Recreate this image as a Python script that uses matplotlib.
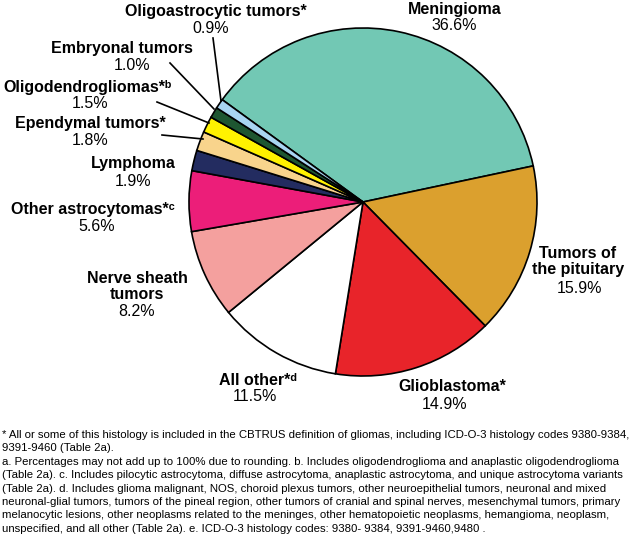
import matplotlib
matplotlib.use('Agg')
import matplotlib.pyplot as plt

plt.rcParams['font.family'] = ['Liberation Sans', 'DejaVu Sans']

# data (clockwise from Meningioma)
names = ['Meningioma', 'Tumors of\nthe pituitary', 'Glioblastoma*', 'All other*ᵈ',
         'Nerve sheath\ntumors', 'Other astrocytomas*ᶜ', 'Lymphoma', 'Ependymal tumors*',
         'Oligodendrogliomas*ᵇ', 'Embryonal tumors', 'Oligoastrocytic tumors*']
pct = [36.6, 15.9, 14.9, 11.5, 8.2, 5.6, 1.9, 1.8, 1.5, 1.0, 0.9]
colors = ['#72C8B4', '#DBA02E', '#E8242A', '#FFFFFF', '#F4A09E', '#EC1E79',
          '#232C60', '#F8D48C', '#FFF200', '#1E5631', '#A9D5F2']

W, H = 640, 546
fig = plt.figure(figsize=(W / 100, H / 100), dpi=100)
ax = fig.add_axes([0, 0, 1, 1])

ax.pie(pct, colors=colors, startangle=144, counterclock=False,
       center=(363, H - 202), radius=174,
       wedgeprops=dict(edgecolor='black', linewidth=1.2))
ax.set_xlim(0, W)
ax.set_ylim(0, H)
ax.set_aspect('equal')
ax.axis('off')

# label positions in pixels: x, baseline of first name line, x, baseline of percent
lab = [
    (455, 14, 454, 30),
    (578, 258, 580, 293),
    (452, 391, 445, 409),
    (258, 385, 255, 401),
    (137, 283, 137, 316),
    (93, 214, 97, 231),
    (133, 168, 133, 186),
    (90, 128, 90, 145),
    (88, 92, 90, 108),
    (122, 53, 132, 70),
    (216, 16, 211, 33),
]
fs = 11.5
for n, p, (x, y, xp, yp) in zip(names, pct, lab):
    for k, part in enumerate(n.split('\n')):
        ax.text(x, H - (y + 16 * k), part, ha='center', va='baseline', fontsize=fs,
                fontweight='bold')
    ax.text(xp, H - yp, f'{p}%', ha='center', va='baseline', fontsize=fs)

# leader lines
leaders = [
    ((213, 38), (221, 101)),
    ((170, 63), (214, 109)),
    ((157, 102), (209, 123)),
    ((162, 135), (203, 139)),
]
for (x0, y0), (x1, y1) in leaders:
    ax.plot([x0, x1], [H - y0, H - y1], color='black', lw=1.2)

notes = [
    '* All or some of this histology is included in the CBTRUS definition of gliomas, including ICD-O-3 histology codes 9380-9384,',
    '9391-9460 (Table 2a).',
    'a. Percentages may not add up to 100% due to rounding. b. Includes oligodendroglioma and anaplastic oligodendroglioma',
    '(Table 2a). c. Includes pilocytic astrocytoma, diffuse astrocytoma, anaplastic astrocytoma, and unique astrocytoma variants',
    '(Table 2a). d. Includes glioma malignant, NOS, choroid plexus tumors, other neuroepithelial tumors, neuronal and mixed',
    'neuronal-glial tumors, tumors of the pineal region, other tumors of cranial and spinal nerves, mesenchymal tumors, primary',
    'melanocytic lesions, other neoplasms related to the meninges, other hematopoietic neoplasms, hemangioma, neoplasm,',
    'unspecified, and all other (Table 2a). e. ICD-O-3 histology codes: 9380- 9384, 9391-9460,9480 .',
]
for i, line in enumerate(notes):
    ax.text(2, H - (435 + i * 13.4), line, ha='left', va='center', fontsize=8.2)

fig.savefig('out.png', dpi=100)
